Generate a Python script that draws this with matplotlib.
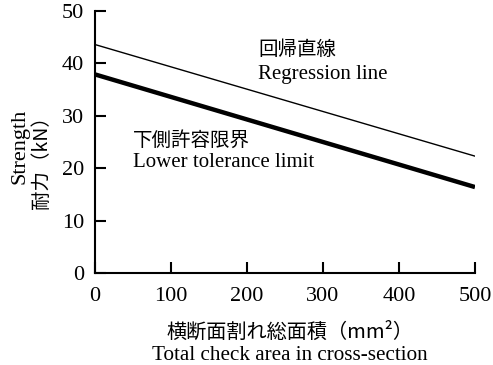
import numpy as np
import matplotlib.pyplot as plt

plt.rcParams['font.family'] = ['Liberation Serif', 'Noto Sans CJK JP']

# data
area = [0, 500]
regression = [43.6, 22.3]
lower_limit = [37.9, 16.4]
xticks = [0, 100, 200, 300, 400, 500]
yticks = [0, 10, 20, 30, 40, 50]

fig = plt.figure(figsize=(4.93, 3.65), dpi=100)
ax = fig.add_axes([95/493, 1-273/365, 380/493, 262/365])

ax.plot(area, regression, color='black', lw=1.0)
ax.plot(area, lower_limit, color='black', lw=3.2, solid_capstyle='butt')

ax.set_xlim(0, 500)
ax.set_ylim(0, 50)
ax.set_xticks(xticks)
ax.set_yticks(yticks)
ax.spines['top'].set_visible(False)
ax.spines['right'].set_visible(False)
for s in ['left', 'bottom']:
    ax.spines[s].set_linewidth(1.5)
ax.tick_params(direction='in', length=8, width=1.5, labelsize=16)
ax.tick_params(axis='x', pad=10)
ax.tick_params(axis='y', pad=8)

jp = ['Noto Sans CJK JP', 'Liberation Serif']
ax.text(215, 42.6, '回帰直線', fontsize=14, va='center', family=jp)
ax.text(215, 37.8, 'Regression line', fontsize=15, va='center')
ax.text(50, 25.4, '下側許容限界', fontsize=14, va='center', family=jp)
ax.text(50, 21.0, 'Lower tolerance limit', fontsize=15, va='center')

fig.text(20/493, 1-146/365, 'Strength', rotation=90, fontsize=16, ha='center', va='center')
fig.text(41/493, 1-158/365, '耐力（kN）', rotation=90, fontsize=14, ha='center', va='center', family=jp)
fig.text(290/493, 1-332/365, '横断面割れ総面積（mm²）', fontsize=14.5, ha='center', va='center', family=jp)
fig.text(290/493, 1-356/365, 'Total check area in cross-section', fontsize=15.2, ha='center', va='center')

fig.savefig('out.png', dpi=100)
